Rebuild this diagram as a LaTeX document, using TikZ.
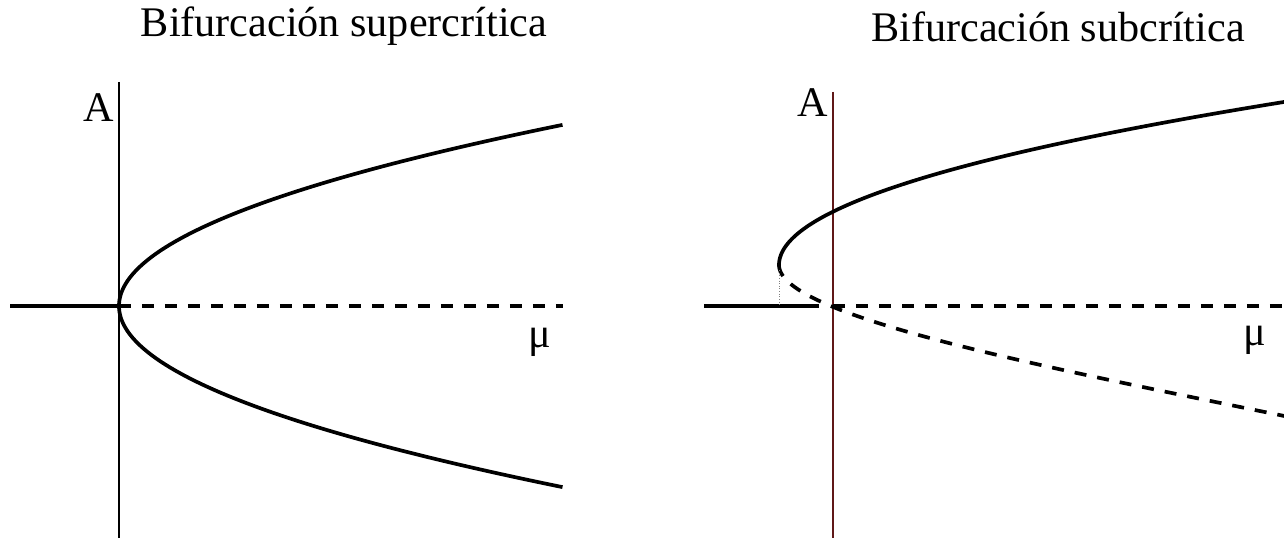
\documentclass[tikz,border=0pt]{standalone}
\usepackage{fontspec}
\setmainfont{Liberation Serif}
\definecolor{axisred}{RGB}{96,24,24}
\begin{document}
\begin{tikzpicture}[x=0.02cm,y=-0.02cm,
  branch/.style={line width=2.1pt,line cap=butt},
  unstable/.style={branch,dash pattern=on 0.24cm off 0.22cm},
  axis/.style={line width=0.6pt},
  lbl/.style={font=\fontsize{24}{28}\selectfont,inner sep=0pt},
  ttl/.style={font=\fontsize{24}{28}\selectfont,inner sep=0pt,anchor=base}]
\useasboundingbox (0,0) rectangle (1284,540);
% ---------- left panel: supercritical ----------
\node[ttl] (t1) at (344,37) {Bifurcación supercrítica};
\coordinate (o1) at (119,306);
\coordinate (l1) at (10,306);
\coordinate (r1) at (563,306);
\coordinate (vt1) at (119,82);
\coordinate (vb1) at (119,538);
\draw[axis] (vt1) -- (vb1);
\draw[branch] (l1) -- (o1);
\draw[unstable] (o1) -- (r1);
\draw[branch] plot[domain=0:21.06,samples=120,smooth] ({119+\x*\x},{306-8.6*\x});
\draw[branch] plot[domain=0:21.06,samples=120,smooth] ({119+\x*\x},{306+8.6*\x});
\node[lbl,anchor=base] (a1) at (99,122) {A};
\node[lbl,anchor=base] (m1) at (540,348) {μ};
% ---------- right panel: subcritical ----------
\node[ttl] (t2) at (1058,42) {Bifurcación subcrítica};
\coordinate (o2) at (833,306);
\coordinate (l2) at (704,306);
\coordinate (ls2) at (819,306);
\coordinate (r2) at (1284,306);
\coordinate (vt2) at (833,92);
\coordinate (vb2) at (833,538);
\draw[axis,axisred,line width=0.8pt] (vt2) -- (vb2);
\draw[branch] (l2) -- (ls2);
\draw[unstable] (o2) -- (r2);
\draw[branch] plot[domain=0:16.4,samples=120,smooth] ({779+1.9*\x*\x},{265-10*\x});
\draw[unstable] plot[domain=0:15.1,samples=120,smooth] ({779+3.4*\x*\x-0.0784*\x*\x*\x},{265+10*\x});
\coordinate (nose) at (779,270);
\coordinate (foot) at (779,306);
\draw[gray,densely dotted,line width=0.5pt] (nose) -- (foot);
\node[lbl,anchor=base] (a2) at (813,117) {A};
\node[lbl,anchor=base] (m2) at (1255,345) {μ};
\end{tikzpicture}
\end{document}
